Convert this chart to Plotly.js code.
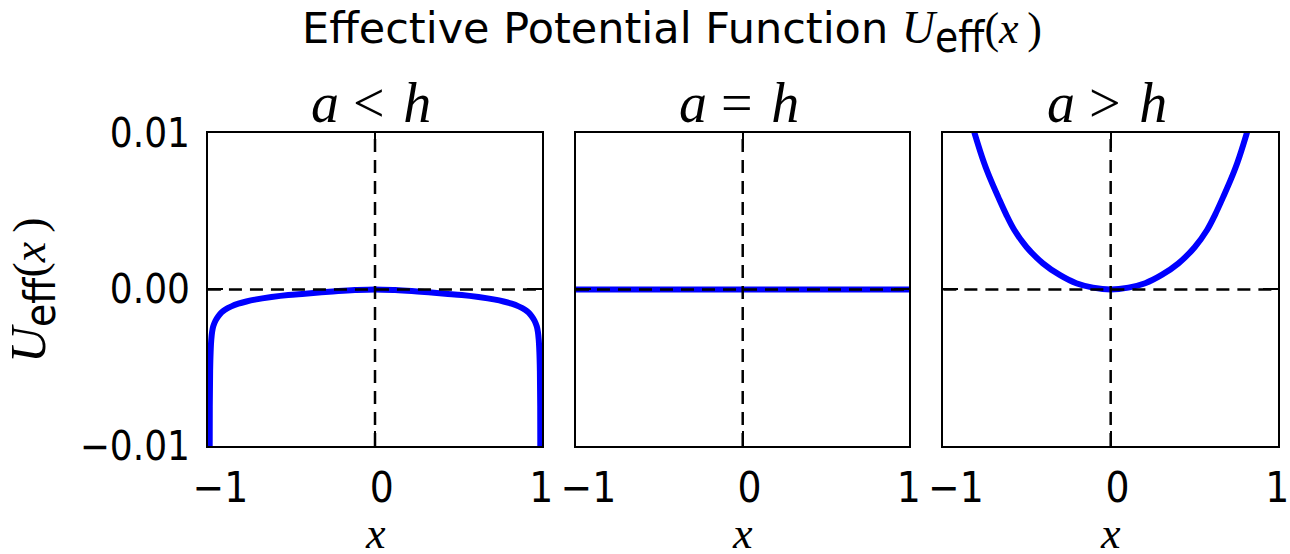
<!DOCTYPE html>
<html>
<head>
<meta charset="utf-8">
<script src="https://cdn.plot.ly/plotly-3.0.1.min.js"></script>
<style>
  body { margin: 0; background: white; }
  #chart { width: 1290px; height: 554px; }
</style>
</head>
<body>
<div id="chart"></div>
<script>
// values
var panelTitles = ['a < h', 'a = h', 'a > h'];

var xLess = [-0.99, -0.989, -0.987, -0.984, -0.98, -0.975, -0.968, -0.955, -0.938, -0.92, -0.898, -0.86, -0.818, -0.77, -0.719, -0.62, -0.52, -0.42, -0.32, -0.22, -0.12, 0,
             0.12, 0.22, 0.32, 0.42, 0.52, 0.62, 0.719, 0.77, 0.818, 0.86, 0.898, 0.92, 0.938, 0.955, 0.968, 0.975, 0.98, 0.984, 0.987, 0.989, 0.99];
var uLess = [-0.0125, -0.0075, -0.0052, -0.0040, -0.0032, -0.0027, -0.00235, -0.0020, -0.00171, -0.00148, -0.00129, -0.00108, -0.00091, -0.00077, -0.00065, -0.00048, -0.00035, -0.00027, -0.00018, -0.0001, -0.00004, 0,
             -0.00004, -0.0001, -0.00018, -0.00027, -0.00035, -0.00048, -0.00065, -0.00077, -0.00091, -0.00108, -0.00129, -0.00148, -0.00171, -0.0020, -0.00235, -0.0027, -0.0032, -0.0040, -0.0052, -0.0075, -0.0125];

var xEqual = [-1, -0.5, 0, 0.5, 1];
var uEqual = [0, 0, 0, 0, 0];

var xMore = [-0.86, -0.835, -0.811, -0.757, -0.715, -0.672, -0.625, -0.576, -0.502, -0.405, -0.305, -0.206, -0.106, 0,
             0.106, 0.206, 0.305, 0.405, 0.502, 0.576, 0.625, 0.672, 0.715, 0.757, 0.811, 0.835, 0.86];
var uMore = [0.0118, 0.0108, 0.0099, 0.0081, 0.00695, 0.0059, 0.0048, 0.0038, 0.0027, 0.00167, 0.00093, 0.0004, 0.00012, 0,
             0.00012, 0.0004, 0.00093, 0.00167, 0.0027, 0.0038, 0.0048, 0.0059, 0.00695, 0.0081, 0.0099, 0.0108, 0.0118];

var xTickVals = [-1, 0, 1];
var xTickText = ['\u2002\u22121', '\u20090', '1\u2009'];
var yTickVals = [-0.01, 0, 0.01];
var yTickText = ['\u22120.01', '0.00', '0.01'];

var SANS = "'DejaVu Sans', sans-serif";
var NARROW = "'DejaVu Sans Condensed', 'Liberation Sans Narrow', 'DejaVu Sans', sans-serif";
var NARROW_PLAIN = 'DejaVu Sans Condensed, DejaVu Sans, sans-serif';
var SERIF = "'Liberation Serif', 'DejaVu Serif', serif";
var BLUE = '#0000ff';

var xDomains = [[0.1612, 0.4202], [0.4465, 0.7050], [0.7313, 0.9907]];
var yDomain = [0.195, 0.760];

var series = [[xLess, uLess], [xEqual, uEqual], [xMore, uMore]];

var data = series.map(function (s, i) {
  var n = i === 0 ? '' : String(i + 1);
  return {
    x: s[0], y: s[1],
    xaxis: 'x' + n, yaxis: 'y' + n,
    type: 'scatter', mode: 'lines',
    line: {color: BLUE, width: 6, shape: 'spline', smoothing: 1},
    hoverinfo: 'skip'
  };
});

function xAxis(i) {
  return {
    domain: xDomains[i], anchor: i === 0 ? 'y' : 'y' + (i + 1),
    range: [-1, 1], tickmode: 'array', tickvals: xTickVals, ticktext: xTickText,
    ticks: 'inside', ticklen: 15, tickwidth: 2, tickcolor: 'black',
    showline: true, linewidth: 2, linecolor: 'black', mirror: 'ticks',
    showgrid: false, zeroline: false, ticklabelstandoff: 4, ticklabelshift: 3,
    ticklabeloverflow: 'allow',
    tickfont: {family: NARROW, size: 42, color: 'black'}
  };
}

function yAxis(i) {
  return {
    domain: yDomain, anchor: i === 0 ? 'x' : 'x' + (i + 1),
    range: [-0.01, 0.01], tickmode: 'array', tickvals: yTickVals, ticktext: yTickText,
    ticks: 'inside', ticklen: 15, tickwidth: 2, tickcolor: 'black',
    showline: true, linewidth: 2, linecolor: 'black', mirror: 'ticks',
    showgrid: false, zeroline: false, showticklabels: i === 0, ticklabelstandoff: 8,
    tickfont: {family: NARROW, size: 40, color: 'black'}
  };
}

// U_eff(x) written with a large sans subscript, as in the reference
function uEff(uSize, subSize, parenSize) {
  return '<span style="font-family:Liberation Serif;font-size:' + uSize + 'px"><i>U</i></span>' +
    '<sub><span style="font-family:' + NARROW_PLAIN + ';font-size:' + subSize + 'px">eff</span></sub>' +
    '<span style="font-family:Liberation Serif;font-size:' + parenSize + 'px">(<i>x</i>\u2009)</span>';
}

var shapes = [];
var annotations = [];
[0, 1, 2].forEach(function (i) {
  var n = i === 0 ? '' : String(i + 1);
  var dash = {color: 'black', width: 2.5, dash: '13px,8px'};
  shapes.push({type: 'line', xref: 'x' + n, yref: 'y' + n + ' domain', x0: 0, x1: 0, y0: 0, y1: 1, line: dash});
  shapes.push({type: 'line', xref: 'x' + n + ' domain', yref: 'y' + n, x0: 0, x1: 1, y0: 0, y1: 0, line: dash});

  var cx = (xDomains[i][0] + xDomains[i][1]) / 2;
  var t = panelTitles[i].split(' ');
  annotations.push({
    text: '<i>' + t[0] + '</i> ' + t[1] + '\u200a <i>' + t[2] + '</i>',
    xref: 'paper', yref: 'paper', x: cx - 4 / 1290, y: 1 - 136 / 554, xanchor: 'center', yanchor: 'bottom',
    showarrow: false, font: {family: SERIF, size: 56, color: 'black'}
  });
  annotations.push({
    text: '<i>x</i>',
    xref: 'paper', yref: 'paper', x: cx, y: 1 - 533 / 554, xanchor: 'center', yanchor: 'middle',
    showarrow: false, borderpad: 0, font: {family: SERIF, size: 44, color: 'black'}
  });
});

annotations.push({
  text: uEff(50, 42, 46),
  xref: 'paper', yref: 'paper', x: 32 / 1290, y: 1 - 290 / 554, xanchor: 'center', yanchor: 'middle',
  textangle: -90, showarrow: false, font: {family: SERIF, size: 46, color: 'black'}
});

var layout = {
  width: 1290, height: 554,
  margin: {l: 0, r: 0, t: 0, b: 0},
  paper_bgcolor: 'white', plot_bgcolor: 'white',
  showlegend: false,
  title: {
    text: 'Effective Potential Function ' + uEff(46, 42, 44),
    x: 672 / 1290, xanchor: 'center', y: 1 - 28 / 554, yanchor: 'middle',
    font: {family: SANS, size: 43, color: 'black'}
  },
  xaxis: xAxis(0), yaxis: yAxis(0),
  xaxis2: xAxis(1), yaxis2: yAxis(1),
  xaxis3: xAxis(2), yaxis3: yAxis(2),
  shapes: shapes,
  annotations: annotations
};

Plotly.newPlot('chart', data, layout, {staticPlot: true});
</script>
</body>
</html>
